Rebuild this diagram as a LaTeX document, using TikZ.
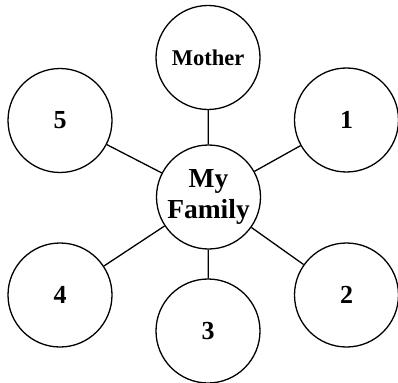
\documentclass[tikz,border=0pt]{standalone}
\usepackage{fontspec}
\setmainfont{Liberation Serif}
\begin{document}
\begin{tikzpicture}[x=1pt,y=-1pt,
  bubble/.style={circle,draw,line width=1.3pt,minimum size=104pt,inner sep=0pt,font=\bfseries\fontsize{26}{30}\selectfont},
  link/.style={line width=1.3pt}]
\useasboundingbox (0,0) rectangle (398,382);
\node[bubble,font=\bfseries\fontsize{27.5}{31}\selectfont,align=center] (c) at (208.5,197) {My\\Family};
\node[bubble,font=\bfseries\fontsize{22.5}{26}\selectfont] (m) at (208,57.5) {Mother};
\node[bubble] (n1) at (346.5,120) {1};
\node[bubble] (n2) at (346.5,295) {2};
\node[bubble] (n3) at (208,331) {3};
\node[bubble] (n4) at (60,295) {4};
\node[bubble] (n5) at (60,120.5) {5};
\foreach \n in {m,n1,n2,n3,n4,n5} \draw[link] (c) -- (\n);
\end{tikzpicture}
\end{document}
